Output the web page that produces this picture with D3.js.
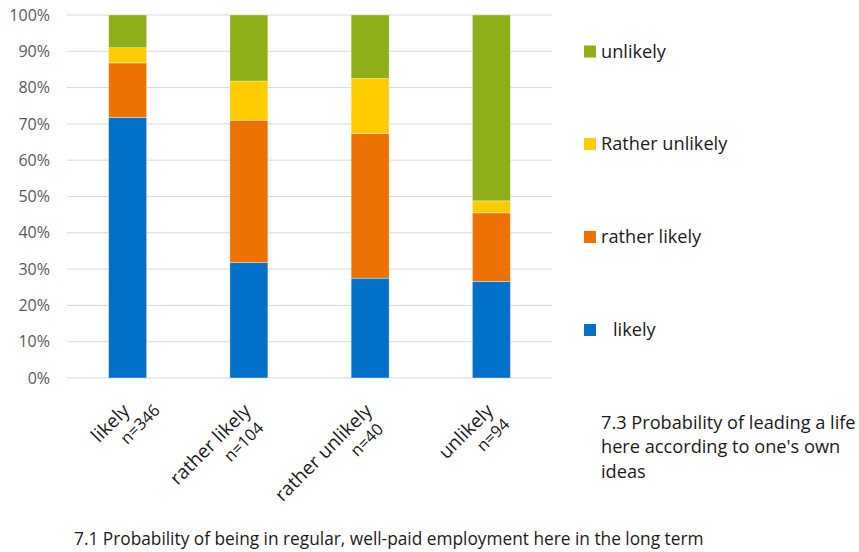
<!DOCTYPE html>
<html>
<head>
<meta charset="utf-8">
<script src="https://cdn.jsdelivr.net/npm/d3@7"></script>
<style>
  body { margin: 0; background: #fff; }
  svg { display: block; font-family: "Open Sans", "Noto Sans", sans-serif; }
</style>
</head>
<body>
<svg id="chart" width="859" height="552"></svg>
<script>
// Answer groups on the x axis and their sample sizes
const categories = ["likely", "rather likely", "rather unlikely", "unlikely"];
const counts = [346, 104, 40, 94];

// Stacked shares (%) per answer to 7.3, bottom to top
const seriesNames = ["likely", "rather likely", "Rather unlikely", "unlikely"];
const likely = [71.8, 31.8, 27.5, 26.6];
const ratherLikely = [15.0, 39.2, 39.9, 18.9];
const ratherUnlikely = [4.2, 10.8, 15.1, 3.3];
const unlikely = [9.0, 18.2, 17.5, 51.2];

const yTicks = [0, 10, 20, 30, 40, 50, 60, 70, 80, 90, 100];

const colors = ["#0070C9", "#EE7203", "#FFCC00", "#8EAF17"];
// sideways nudge of the "n=" line along the rotated label
const countShift = [22, -3, -5, 2];

const svg = d3.select("#chart");
const plot = { left: 67, right: 552, top: 15, bottom: 378 };

const x = d3.scaleBand()
  .domain(categories)
  .range([plot.left, plot.right])
  .paddingInner(0.687)
  .paddingOuter(0.3435);

const y = d3.scaleLinear().domain([0, 100]).range([plot.bottom, plot.top]);

// gridlines
svg.append("g")
  .selectAll("line")
  .data(yTicks)
  .join("line")
  .attr("x1", plot.left).attr("x2", plot.right)
  .attr("y1", d => y(d)).attr("y2", d => y(d))
  .attr("stroke", "#d9d9d9").attr("stroke-width", 1);

// y tick labels
svg.append("g")
  .selectAll("text")
  .data(yTicks)
  .join("text")
  .attr("x", 50)
  .attr("y", d => y(d))
  .attr("dy", "0.35em")
  .attr("text-anchor", "end")
  .attr("fill", "#595959")
  .attr("font-size", 16)
  .text(d => d + "%");

// stacked bars
const rows = categories.map((c, i) => ({
  cat: c,
  [seriesNames[0]]: likely[i],
  [seriesNames[1]]: ratherLikely[i],
  [seriesNames[2]]: ratherUnlikely[i],
  [seriesNames[3]]: unlikely[i]
}));
const stacked = d3.stack().keys(seriesNames)(rows);

svg.append("g")
  .selectAll("g")
  .data(stacked)
  .join("g")
  .attr("fill", (d, i) => colors[i])
  .selectAll("rect")
  .data(d => d)
  .join("rect")
  .attr("x", d => x(d.data.cat))
  .attr("width", x.bandwidth())
  .attr("y", d => y(d[1]))
  .attr("height", d => y(d[0]) - y(d[1]))
  .attr("stroke", "#ffffff")
  .attr("stroke-opacity", 0.45)
  .attr("stroke-width", 0.75);

// rotated category labels with sample sizes
const xl = svg.append("g")
  .selectAll("g")
  .data(categories)
  .join("g")
  .attr("transform", d => `translate(${x(d) + x.bandwidth() / 2 + 3},412) rotate(-45)`);

xl.append("text")
  .attr("text-anchor", "end")
  .attr("font-size", 19)
  .attr("fill", "#1a1a1a")
  .text(d => d);

xl.append("text")
  .attr("text-anchor", "end")
  .attr("x", (d, i) => countShift[i])
  .attr("y", 21)
  .attr("font-size", 16.5)
  .attr("fill", "#1a1a1a")
  .text((d, i) => "n=" + counts[i]);

// legend, top entry is the top stack segment
const legendY = [330, 237, 144, 51.5];
const lg = svg.append("g")
  .selectAll("g")
  .data(seriesNames)
  .join("g")
  .attr("transform", (d, i) => `translate(584,${legendY[i]})`);

lg.append("rect")
  .attr("x", 0).attr("y", -6)
  .attr("width", 12).attr("height", 12)
  .attr("fill", (d, i) => colors[i]);

lg.append("text")
  .attr("x", (d, i) => i === 0 ? 29 : 17)
  .attr("dy", "0.35em")
  .attr("font-size", 18.2)
  .attr("fill", "#1a1a1a")
  .text(d => d);

// side note for the series variable
const note = ["7.3 Probability of leading a life", "here according to one's own", "ideas"];
svg.append("g")
  .selectAll("text")
  .data(note)
  .join("text")
  .attr("x", 601)
  .attr("y", (d, i) => 429 + i * 24.3)
  .attr("font-size", 18.2)
  .attr("fill", "#1a1a1a")
  .text(d => d);

// x variable title
svg.append("text")
  .attr("x", 74)
  .attr("y", 545)
  .attr("font-size", 17.3)
  .attr("fill", "#1a1a1a")
  .text("7.1 Probability of being in regular, well-paid employment here in the long term");
</script>
</body>
</html>
